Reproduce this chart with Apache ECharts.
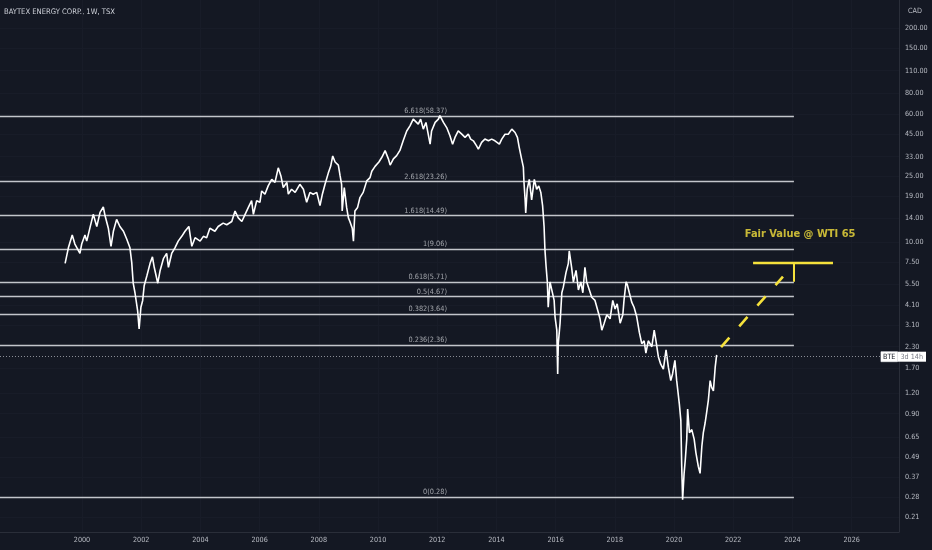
<!DOCTYPE html>
<html><head><meta charset="utf-8">
<script src="https://cdn.jsdelivr.net/npm/echarts@6/dist/echarts.min.js"></script>
<style>html,body{margin:0;padding:0;background:#141823}#c{width:932px;height:550px}</style>
</head><body><div id="c"></div>
<script>
// ---- data ----
const weeklyCloses = [[1999.43,7.4],[1999.54,9.2],[1999.67,11.0],[1999.76,9.7],[1999.93,8.5],[1999.99,9.7],[2000.10,11.0],[2000.16,10.1],[2000.27,12.2],[2000.38,14.7],[2000.50,12.4],[2000.61,15.1],[2000.72,16.3],[2000.78,14.4],[2000.89,12.1],[2000.98,9.4],[2001.06,11.6],[2001.17,13.7],[2001.28,12.4],[2001.40,11.6],[2001.51,10.4],[2001.62,9.2],[2001.68,7.5],[2001.73,5.6],[2001.79,4.9],[2001.88,3.8],[2001.93,2.95],[2001.99,4.0],[2002.05,4.4],[2002.10,5.4],[2002.19,6.2],[2002.30,7.4],[2002.38,8.1],[2002.44,7.0],[2002.56,5.6],[2002.64,6.7],[2002.75,7.9],[2002.86,8.5],[2002.92,7.0],[2003.03,8.5],[2003.14,9.2],[2003.25,10.1],[2003.37,10.8],[2003.48,11.6],[2003.61,12.4],[2003.71,9.4],[2003.82,10.6],[2003.99,10.1],[2004.10,10.8],[2004.21,10.6],[2004.32,12.1],[2004.49,11.6],[2004.60,12.4],[2004.77,13.0],[2004.89,12.7],[2005.06,13.3],[2005.17,15.4],[2005.28,14.0],[2005.40,13.3],[2005.51,14.7],[2005.62,16.2],[2005.73,17.8],[2005.79,14.7],[2005.90,17.8],[2006.01,17.4],[2006.07,20.4],[2006.18,19.5],[2006.29,21.9],[2006.41,24.0],[2006.52,23.0],[2006.63,28.2],[2006.72,25.2],[2006.80,21.4],[2006.92,23.0],[2006.97,19.5],[2007.08,20.9],[2007.20,20.0],[2007.36,22.4],[2007.48,20.9],[2007.59,17.4],[2007.70,20.0],[2007.81,19.5],[2007.93,20.0],[2008.04,16.6],[2008.12,19.5],[2008.21,22.4],[2008.32,26.2],[2008.40,28.8],[2008.47,33.3],[2008.55,30.6],[2008.66,29.3],[2008.72,25.2],[2008.77,22.4],[2008.79,15.4],[2008.86,21.4],[2008.94,16.2],[2009.00,14.0],[2009.05,13.3],[2009.13,12.1],[2009.17,10.1],[2009.22,15.4],[2009.31,16.2],[2009.39,18.6],[2009.50,20.0],[2009.62,23.5],[2009.73,24.6],[2009.79,26.9],[2009.90,28.8],[2010.03,30.6],[2010.13,32.7],[2010.24,35.9],[2010.35,32.0],[2010.41,29.3],[2010.52,32.0],[2010.63,33.5],[2010.74,36.0],[2010.85,41.2],[2010.97,47.3],[2011.08,50.8],[2011.19,55.8],[2011.25,57.1],[2011.36,52.0],[2011.44,55.8],[2011.53,48.5],[2011.62,53.3],[2011.76,39.3],[2011.81,47.3],[2011.93,53.3],[2012.04,55.8],[2012.09,58.6],[2012.21,53.3],[2012.32,49.6],[2012.43,44.2],[2012.52,39.3],[2012.60,43.2],[2012.71,47.3],[2012.83,45.2],[2012.94,43.2],[2013.05,45.2],[2013.13,42.2],[2013.22,41.2],[2013.33,38.4],[2013.39,36.6],[2013.50,40.3],[2013.61,42.2],[2013.73,41.2],[2013.84,42.2],[2013.95,41.2],[2014.10,39.3],[2014.18,42.2],[2014.29,45.2],[2014.40,45.2],[2014.52,48.5],[2014.63,46.3],[2014.71,43.2],[2014.77,37.6],[2014.85,32.0],[2014.91,28.5],[2014.93,23.2],[2014.97,18.0],[2014.99,15.0],[2015.04,20.9],[2015.11,24.0],[2015.19,18.0],[2015.28,24.0],[2015.36,20.9],[2015.43,21.9],[2015.50,20.0],[2015.56,16.6],[2015.61,12.4],[2015.64,8.9],[2015.68,7.0],[2015.72,5.7],[2015.75,4.0],[2015.81,5.7],[2015.87,5.1],[2015.95,4.4],[2015.98,3.5],[2016.04,2.9],[2016.07,1.57],[2016.09,2.4],[2016.15,3.2],[2016.21,4.9],[2016.26,5.3],[2016.35,6.5],[2016.43,7.4],[2016.46,8.8],[2016.54,7.0],[2016.60,5.7],[2016.69,6.7],[2016.77,5.1],[2016.85,5.7],[2016.92,4.9],[2016.99,7.0],[2017.05,5.7],[2017.14,5.1],[2017.22,4.6],[2017.33,4.4],[2017.41,3.9],[2017.50,3.4],[2017.56,2.9],[2017.64,3.2],[2017.73,3.6],[2017.84,3.4],[2017.93,4.4],[2018.01,3.9],[2018.08,4.2],[2018.18,3.2],[2018.27,3.6],[2018.31,4.4],[2018.38,5.7],[2018.42,5.5],[2018.49,4.9],[2018.57,4.3],[2018.65,4.0],[2018.74,3.5],[2018.83,2.8],[2018.91,2.4],[2018.99,2.5],[2019.05,2.1],[2019.13,2.5],[2019.25,2.3],[2019.33,2.9],[2019.39,2.5],[2019.47,2.0],[2019.55,1.8],[2019.64,1.68],[2019.73,2.2],[2019.81,1.72],[2019.89,1.43],[2019.95,1.57],[2020.03,1.9],[2020.09,1.43],[2020.18,1.03],[2020.23,0.82],[2020.26,0.43],[2020.29,0.27],[2020.34,0.39],[2020.38,0.47],[2020.43,0.63],[2020.46,0.96],[2020.52,0.69],[2020.60,0.72],[2020.68,0.63],[2020.74,0.52],[2020.82,0.43],[2020.88,0.39],[2020.94,0.57],[2020.99,0.69],[2021.05,0.79],[2021.10,0.91],[2021.16,1.09],[2021.22,1.43],[2021.27,1.30],[2021.33,1.24],[2021.39,1.72],[2021.44,2.05]];

const priceTickValues = [200,150,110,80,60,45,33,25,19,14,10,7.5,5.5,4.1,3.1,2.3,1.7,1.2,0.9,0.65,0.49,0.37,0.28,0.21];
const priceTickLabels = ['200.00','150.00','110.00','80.00','60.00','45.00','33.00','25.00','19.00','14.00','10.00','7.50','5.50','4.10','3.10','2.30','1.70','1.20','0.90','0.65','0.49','0.37','0.28','0.21'];
const yearTicks = [2000,2002,2004,2006,2008,2010,2012,2014,2016,2018,2020,2022,2024,2026];

const fibRatios = ['6.618','2.618','1.618','1','0.618','0.5','0.382','0.236','0'];
const fibLevels = [58.37, 23.26, 14.49, 9.06, 5.71, 4.67, 3.64, 2.36, 0.28];
const fibStartYear = 1997.23, fibEndYear = 2024.05, fibLabelYear = 2012.33;

const lastClose = 2.0;
const projectionPath = [[2021.59, 2.29], [2023.68, 6.15]];
const fairValue = 7.42;
const fairValueSpan = [2022.67, 2025.37];
const fairValueMarkerYear = 2024.05;
const fairValueText = 'Fair Value @ WTI 65';
const fairValueTextPos = [2024.26, 11.18];

// ---- chart ----
const F = "'Liberation Sans Narrow','DejaVu Sans Condensed','Liberation Sans',sans-serif";
const AX = '#b8bbc3';
const GRID = '#181c28';
const FIB = '#c3c5cb';
const YEL = '#f5e13c';
const chart = echarts.init(document.getElementById('c'));
chart.setOption({
  backgroundColor: '#141823',
  animation: false,
  grid: { left: 0, right: 33, top: 0, bottom: 18 },
  graphic: [
    { type: 'text', left: 4, top: 8, style: { text: 'BAYTEX ENERGY CORP., 1W, TSX', fill: '#d1d4dc', font: '7.6px ' + F } },
    { type: 'text', left: 908, top: 8, style: { text: 'CAD', fill: AX, font: '7.2px ' + F } }
  ],
  xAxis: {
    type: 'value', min: 1997.23, max: 2027.6,
    axisLine: { show: true, lineStyle: { color: '#2a2e39' } },
    axisTick: { show: false, customValues: yearTicks },
    splitLine: { show: false },
    axisLabel: {
      color: AX, fontSize: 7.2, fontFamily: F, margin: 5,
      customValues: yearTicks,
      formatter: v => String(v)
    }
  },
  yAxis: {
    type: 'log', logBase: 10, min: 0.1715, max: 296.3, position: 'right',
    axisLine: { show: true, lineStyle: { color: '#2a2e39' } },
    axisTick: { show: false }, axisLabel: { show: false }, splitLine: { show: false }
  },
  series: [
    { // time grid
      type: 'line', data: [], z: 1, silent: true,
      markLine: {
        z: 1, symbol: 'none', silent: true, animation: false, label: { show: false },
        lineStyle: { color: GRID, width: 1, type: 'solid' },
        data: yearTicks.map(v => ({ xAxis: v }))
      }
    },
    { // price scale grid + labels
      type: 'line', data: [], z: 1, silent: true,
      markLine: {
        z: 1, symbol: 'none', silent: true, animation: false,
        lineStyle: { color: GRID, width: 1, type: 'solid' },
        label: { show: true, position: 'end', distance: 6, color: AX, fontSize: 7.2, fontFamily: F,
          formatter: p => priceTickLabels[p.dataIndex] },
        data: priceTickValues.map(v => ({ yAxis: v }))
      }
    },
    { // fibonacci levels
      type: 'line', data: [], z: 2, silent: true,
      markLine: {
        z: 2, symbol: 'none', silent: true, animation: false,
        lineStyle: { color: FIB, width: 1.4, type: 'solid' },
        label: { show: false },
        data: fibLevels.map(v => [{ coord: [fibStartYear, v] }, { coord: [fibEndYear, v] }])
      }
    },
    { // fib labels
      type: 'scatter', z: 3, silent: true, symbolSize: 0,
      itemStyle: { color: 'rgba(0,0,0,0)' },
      label: { show: true, position: 'top', align: 'right', distance: 1, color: FIB, fontSize: 7.3, fontFamily: F,
        formatter: p => p.name },
      data: fibLevels.map((v, i) => ({ name: fibRatios[i] + '(' + v.toFixed(2) + ')', value: [fibLabelYear, v] }))
    },
    { // price
      type: 'line', name: 'BTE', z: 4, showSymbol: false, silent: true,
      lineStyle: { color: '#ffffff', width: 1.6 },
      data: weeklyCloses
    },
    { // yellow annotation lines
      type: 'line', data: [], z: 6, silent: true,
      markLine: {
        z: 6, symbol: 'none', silent: true, animation: false, label: { show: false },
        data: [
          [{ coord: projectionPath[0], lineStyle: { color: YEL, width: 2.6, type: [12.5, 15] } }, { coord: projectionPath[1] }],
          [{ coord: [fairValueSpan[0], fairValue], lineStyle: { color: YEL, width: 2.4, type: 'solid' } }, { coord: [fairValueSpan[1], fairValue] }],
          [{ coord: [fairValueMarkerYear, fibLevels[4]], lineStyle: { color: YEL, width: 2, type: 'solid' } }, { coord: [fairValueMarkerYear, fairValue] }]
        ]
      }
    },
    { // annotation text
      type: 'scatter', z: 6, silent: true, symbolSize: 0,
      itemStyle: { color: 'rgba(0,0,0,0)' },
      label: { show: true, position: 'inside', color: YEL, fontSize: 11, fontWeight: 'bold', fontFamily: F, formatter: fairValueText },
      data: [fairValueTextPos]
    },
    { // last price line + label
      type: 'line', data: [], z: 7, silent: true,
      markLine: {
        z: 7, symbol: 'none', silent: true, animation: false,
        lineStyle: { color: '#8a8d96', width: 1, type: [1, 2] },
        label: { show: true, position: 'end', distance: 0,
          formatter: '{a|BTE}{b|3d 14h}',
          rich: {
            a: { backgroundColor: '#ffffff', color: '#131722', fontSize: 7.2, fontFamily: F, padding: [2, 2, 1, 2], borderColor: '#9598a1', borderWidth: 0.5 },
            b: { backgroundColor: '#ffffff', color: '#787b86', fontSize: 7.2, fontFamily: F, padding: [2, 3, 1, 3] }
          } },
        data: [[{ coord: [fibStartYear, lastClose] }, { coord: [2026.99, lastClose] }]]
      }
    }
  ]
});
</script>
</body></html>
